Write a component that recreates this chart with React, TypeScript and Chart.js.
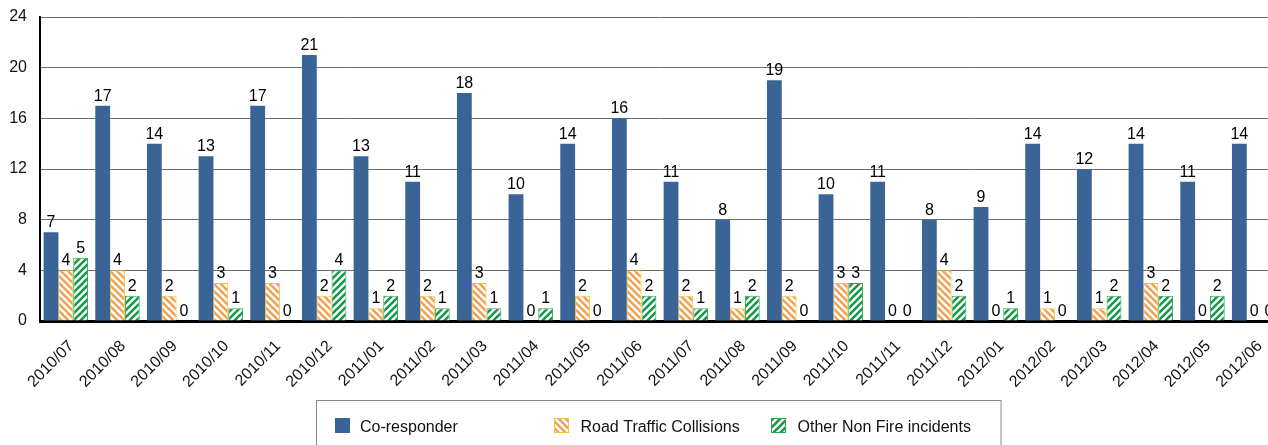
import React, { useEffect, useRef } from 'react';
import { Chart, registerables } from 'chart.js';

Chart.register(...registerables);

const categories = [
  '2010/07', '2010/08', '2010/09', '2010/10', '2010/11', '2010/12',
  '2011/01', '2011/02', '2011/03', '2011/04', '2011/05', '2011/06',
  '2011/07', '2011/08', '2011/09', '2011/10', '2011/11', '2011/12',
  '2012/01', '2012/02', '2012/03', '2012/04', '2012/05', '2012/06',
];
const coResponder = [7, 17, 14, 13, 17, 21, 13, 11, 18, 10, 14, 16, 11, 8, 19, 10, 11, 8, 9, 14, 12, 14, 11, 14];
const roadTraffic = [4, 4, 2, 3, 3, 2, 1, 2, 3, 0, 2, 4, 2, 1, 2, 3, 0, 4, 0, 1, 1, 3, 0, 0];
const otherNonFire = [5, 2, 0, 1, 0, 4, 2, 1, 1, 1, 0, 2, 1, 2, 0, 3, 0, 2, 1, 0, 2, 2, 2, 0];
const seriesLabels = ['Co-responder', 'Road Traffic Collisions', 'Other Non Fire incidents'];
const yMin = 0;
const yMax = 24;
const yStep = 4;

const FONT = '"Liberation Sans", Arial, sans-serif';
const BLUE = '#3A6496';
const ORANGE = '#F2A254';
const ORANGE_BORDER = '#F2C230';
const GREEN = '#16994C';
const GREEN_BORDER = '#2EA84E';

function makePattern(color: string, dir: 'back' | 'fwd'): CanvasPattern | string {
  const p = 7;
  const c = document.createElement('canvas');
  c.width = p;
  c.height = p;
  const g = c.getContext('2d');
  if (!g) return color;
  g.fillStyle = '#ffffff';
  g.fillRect(0, 0, p, p);
  g.strokeStyle = color;
  g.lineWidth = 2.6;
  g.beginPath();
  for (let k = -2; k <= 2; k++) {
    if (dir === 'back') {
      g.moveTo(-p, -p + k * p);
      g.lineTo(2 * p, 2 * p + k * p);
    } else {
      g.moveTo(-p, 2 * p + k * p);
      g.lineTo(2 * p, -p + k * p);
    }
  }
  g.stroke();
  return g.createPattern(c, 'repeat') || color;
}

export default function App() {
  const ref = useRef<HTMLCanvasElement | null>(null);

  useEffect(() => {
    if (!ref.current) return;
    const orangePat = makePattern(ORANGE, 'back');
    const greenPat = makePattern(GREEN, 'fwd');

    const valueLabels = {
      id: 'valueLabels',
      afterDatasetsDraw(chart: any) {
        const ctx = chart.ctx;
        ctx.save();
        ctx.font = `16px ${FONT}`;
        ctx.fillStyle = '#000';
        ctx.textAlign = 'center';
        ctx.textBaseline = 'alphabetic';
        chart.data.datasets.forEach((ds: any, i: number) => {
          const meta = chart.getDatasetMeta(i);
          meta.data.forEach((bar: any, j: number) => {
            ctx.fillText(String(ds.data[j]), bar.x, bar.y - 5);
          });
        });
        ctx.restore();
      },
    };

    const xLabels = {
      id: 'xLabels',
      afterDraw(chart: any) {
        const ctx = chart.ctx;
        const xs = chart.scales.x;
        ctx.save();
        ctx.font = `16px ${FONT}`;
        ctx.fillStyle = '#111';
        ctx.textAlign = 'right';
        ctx.textBaseline = 'top';
        (chart.data.labels as string[]).forEach((lab: string, i: number) => {
          const px = xs.getPixelForTick(i);
          ctx.save();
          ctx.translate(px, xs.top + 17);
          ctx.rotate(-Math.PI / 4);
          ctx.fillText(lab, 0, 0);
          ctx.restore();
        });
        ctx.restore();
      },
    };

    const boxLegend = {
      id: 'boxLegend',
      afterDraw(chart: any) {
        const ctx = chart.ctx;
        ctx.save();
        ctx.strokeStyle = '#8a8a8a';
        ctx.lineWidth = 1;
        ctx.strokeRect(308.5, 392.5, 684.5, 80);
        const swX = [327, 546, 763];
        const txX = [352, 572.5, 789.5];
        const sw = 15;
        const swY = 410;
        ctx.font = `16px ${FONT}`;
        ctx.textBaseline = 'alphabetic';
        ctx.textAlign = 'left';
        chart.data.datasets.forEach((ds: any, i: number) => {
          ctx.fillStyle = ds.backgroundColor;
          ctx.fillRect(swX[i], swY, sw, sw);
          if (ds.borderWidth) {
            ctx.strokeStyle = ds.borderColor;
            ctx.lineWidth = 1;
            ctx.strokeRect(swX[i] + 0.5, swY + 0.5, sw - 1, sw - 1);
          }
          ctx.fillStyle = '#111';
          ctx.fillText(ds.label, txX[i], 424);
        });
        ctx.restore();
      },
    };

    const chart = new Chart(ref.current, {
      type: 'bar',
      data: {
        labels: categories,
        datasets: [
          {
            label: seriesLabels[0],
            data: coResponder,
            backgroundColor: BLUE,
            borderWidth: 0,
          },
          {
            label: seriesLabels[1],
            data: roadTraffic,
            backgroundColor: orangePat as any,
            borderColor: ORANGE_BORDER,
            borderWidth: 1,
          },
          {
            label: seriesLabels[2],
            data: otherNonFire,
            backgroundColor: greenPat as any,
            borderColor: GREEN_BORDER,
            borderWidth: 1,
          },
        ],
      },
      options: {
        responsive: false,
        animation: false,
        categoryPercentage: 0.86,
        barPercentage: 1,
        layout: { padding: { top: 0, right: 0, bottom: 44, left: 0 } },
        plugins: {
          legend: { display: false },
          tooltip: { enabled: false },
          title: { display: false },
        },
        scales: {
          x: {
            grid: { display: false, drawTicks: false },
            border: { display: true, color: '#000', width: 3 },
            ticks: { display: false, autoSkip: false },
            afterFit(scale: any) {
              scale.height = 80;
            },
          },
          y: {
            min: yMin,
            max: yMax,
            ticks: {
              stepSize: yStep,
              color: '#111',
              font: { family: FONT, size: 16, lineHeight: 1 },
              padding: 1,
            },
            grid: {
              color: '#6e6e6e',
              lineWidth: 1,
              drawTicks: true,
              tickLength: 12,
              tickColor: 'rgba(0,0,0,0)',
            },
            border: { display: true, color: '#000', width: 2 },
            afterFit(scale: any) {
              scale.width = 32;
            },
          },
        },
      },
      plugins: [valueLabels, xLabels, boxLegend],
    });
    return () => chart.destroy();
  }, []);

  return (
    <div
      style={{
        position: 'absolute',
        left: 8,
        top: 8,
        width: 1260,
        height: 437,
        overflow: 'hidden',
        background: '#fff',
      }}
    >
      <canvas ref={ref} width={1272} height={437} style={{ display: 'block' }} />
    </div>
  );
}
